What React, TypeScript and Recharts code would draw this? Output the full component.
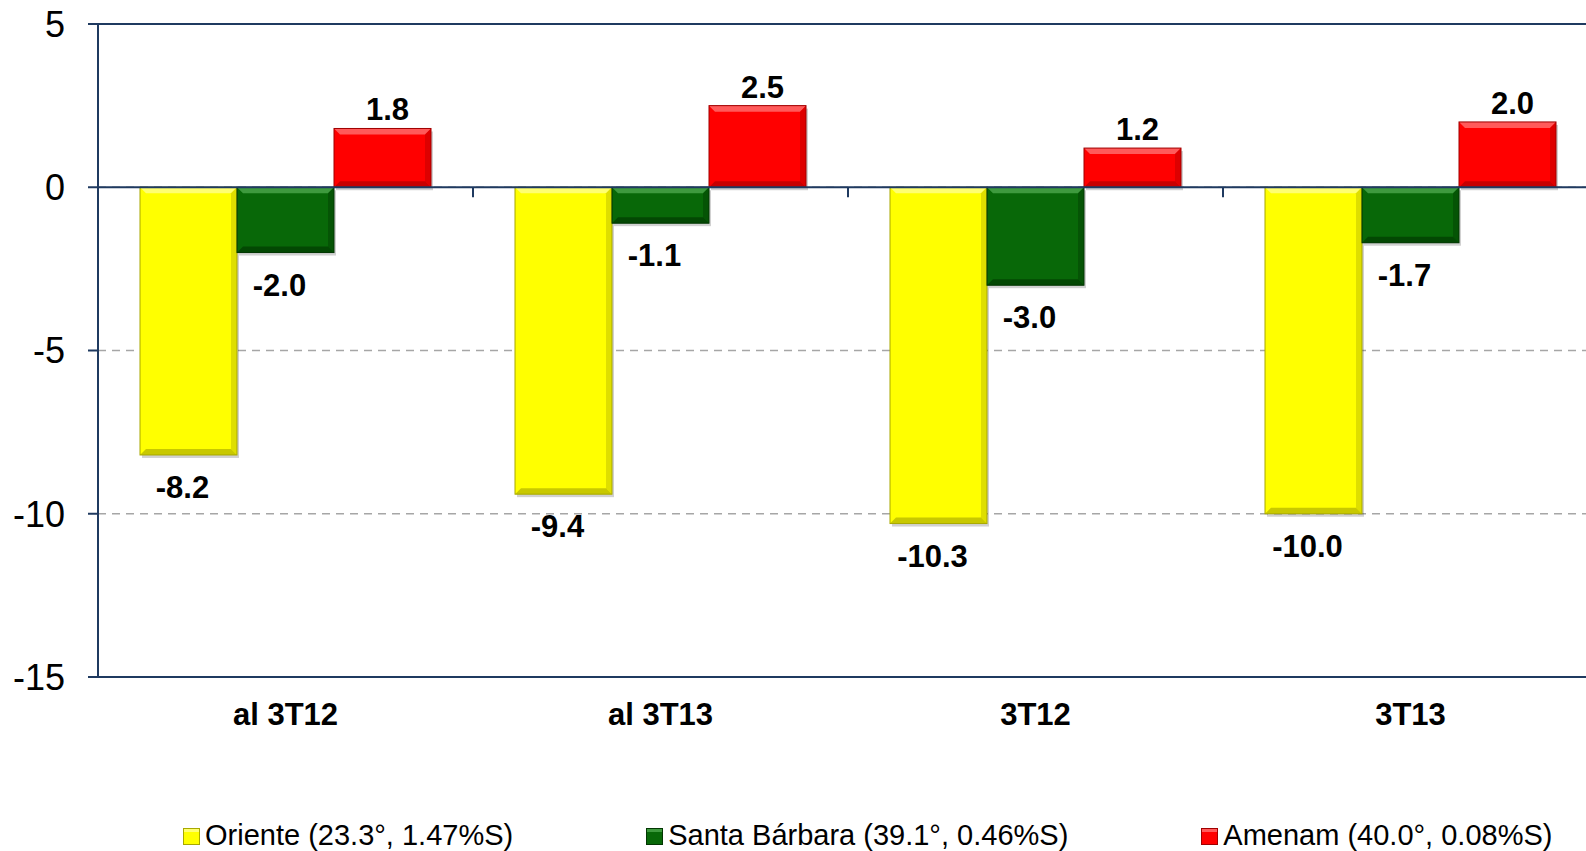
import React from "react";
import { BarChart, Bar, XAxis, YAxis, CartesianGrid, ReferenceLine, Legend, LabelList } from "recharts";

const categories = ["al 3T12", "al 3T13", "3T12", "3T13"];
const oriente = [-8.2, -9.4, -10.3, -10.0];
const santaBarbara = [-2.0, -1.1, -3.0, -1.7];
const amenam = [1.8, 2.5, 1.2, 2.0];
const seriesNames = ["Oriente (23.3°, 1.47%S)", "Santa Bárbara (39.1°, 0.46%S)", "Amenam (40.0°, 0.08%S)"];
const yTicks = [-15, -10, -5, 0, 5];

const FONT = "'Liberation Sans', Arial, sans-serif";
const NAVY = "#1F3A60";

const PALETTE = [
  { base: "#FFFF00", light: "#FFFF70", dark: "#C8C800", edge: "#A8A800" },
  { base: "#086808", light: "#3E9A3E", dark: "#034803", edge: "#023602" },
  { base: "#FF0000", light: "#FF5A5A", dark: "#C80000", edge: "#A00000" },
];

const data = categories.map((name, i) => ({
  name,
  oriente: oriente[i],
  santa: santaBarbara[i],
  amenam: amenam[i],
}));

const bevelShape = (idx: number) => (props: any) => {
  const { x, y, width, height } = props;
  const top = Math.min(y, y + height);
  const h = Math.abs(height);
  const w = width;
  const c = PALETTE[idx];
  const b = Math.min(6, h / 2);
  return (
    <g>
      <rect x={x + 2} y={top + 3} width={w} height={h} fill="#000" opacity={0.18} />
      <rect x={x} y={top} width={w} height={h} fill={c.base} />
      <polygon points={`${x},${top} ${x + w},${top} ${x + w - b},${top + b} ${x + b},${top + b}`} fill={c.light} />
      <polygon points={`${x},${top + h} ${x + w},${top + h} ${x + w - b},${top + h - b} ${x + b},${top + h - b}`} fill={c.dark} />
      <polygon points={`${x + w},${top} ${x + w},${top + h} ${x + w - b},${top + h - b} ${x + w - b},${top + b}`} fill={c.dark} opacity={0.6} />
      <rect x={x} y={top} width={w} height={h} fill="none" stroke={c.edge} strokeWidth={1} />
    </g>
  );
};

const valueLabel = (props: any) => {
  const { x, y, width, height, value } = props;
  const v = Number(value);
  const top = Math.min(y, y + height);
  const bottom = Math.max(y, y + height);
  const ty = v >= 0 ? top - 8 : bottom + 43;
  const dx = v >= 0 ? 5 : -6;
  return (
    <text x={x + width / 2 + dx} y={ty} textAnchor="middle" fontFamily={FONT} fontWeight="bold" fontSize={31} fill="#000">
      {v.toFixed(1)}
    </text>
  );
};

const CategoryTick = (props: any) => {
  const { x, y, payload } = props;
  return (
    <text x={x} y={y + 48} textAnchor="middle" fontFamily={FONT} fontWeight="bold" fontSize={31} fill="#000">
      {payload.value}
    </text>
  );
};

const ZeroLine = (props: any) => {
  const { x1, x2, y1 } = props;
  const step = (x2 - x1) / categories.length;
  return (
    <g>
      <line x1={x1} x2={x2} y1={y1} y2={y1} stroke={NAVY} strokeWidth={2} />
      {categories.slice(1).map((_, i) => (
        <line key={i} x1={x1 + step * (i + 1)} x2={x1 + step * (i + 1)} y1={y1} y2={y1 + 10} stroke={NAVY} strokeWidth={2} />
      ))}
    </g>
  );
};

const LegendContent = () => (
  <div style={{ display: "flex", fontFamily: FONT, fontSize: 29, lineHeight: "36px", color: "#000", whiteSpace: "nowrap" }}>
    {seriesNames.map((n, i) => (
      <span key={n} style={{ marginRight: i < 2 ? 133 : 0 }}>
        <span
          style={{
            display: "inline-block",
            width: 15,
            height: 15,
            marginRight: 5,
            background: PALETTE[i].base,
            border: `1px solid ${PALETTE[i].edge}`,
            boxShadow: `inset 0 3px 0 ${PALETTE[i].light}`,
          }}
        />
        {n}
      </span>
    ))}
  </div>
);

export default function App() {
  return (
    <div style={{ position: "fixed", top: 0, left: 0, width: 1586, height: 851, overflow: "hidden", background: "#fff" }}>
      <BarChart
        width={1610}
        height={851}
        data={data}
        margin={{ top: 24, right: 12, left: 0, bottom: 0 }}
        barCategoryGap={42}
        barGap={0}
      >
        <CartesianGrid vertical={false} stroke="#A6A6A6" strokeDasharray="8 6" strokeWidth={1.5} />
        <XAxis
          dataKey="name"
          axisLine={{ stroke: NAVY, strokeWidth: 2 }}
          tickLine={false}
          tickSize={0}
          tickMargin={0}
          height={138}
          tick={CategoryTick}
          interval={0}
        />
        <YAxis
          domain={[-15, 5]}
          ticks={yTicks}
          width={98}
          axisLine={{ stroke: NAVY, strokeWidth: 2 }}
          tickLine={{ stroke: NAVY, strokeWidth: 2 }}
          tickSize={10}
          tickMargin={23}
          tick={{ fill: "#000", fontSize: 36, fontFamily: FONT }}
          allowDataOverflow
        />
        <ReferenceLine y={5} stroke={NAVY} strokeWidth={2} />
        <Bar dataKey="oriente" name={seriesNames[0]} fill={PALETTE[0].base} shape={bevelShape(0)} isAnimationActive={false}>
          <LabelList dataKey="oriente" content={valueLabel} />
        </Bar>
        <Bar dataKey="santa" name={seriesNames[1]} fill={PALETTE[1].base} shape={bevelShape(1)} isAnimationActive={false}>
          <LabelList dataKey="santa" content={valueLabel} />
        </Bar>
        <Bar dataKey="amenam" name={seriesNames[2]} fill={PALETTE[2].base} shape={bevelShape(2)} isAnimationActive={false}>
          <LabelList dataKey="amenam" content={valueLabel} />
        </Bar>
        <ReferenceLine y={0} shape={ZeroLine} />
        <Legend
          verticalAlign="bottom"
          content={LegendContent}
          wrapperStyle={{ top: 817, left: 183, bottom: "auto", width: "auto", height: 36 }}
        />
      </BarChart>
    </div>
  );
}
